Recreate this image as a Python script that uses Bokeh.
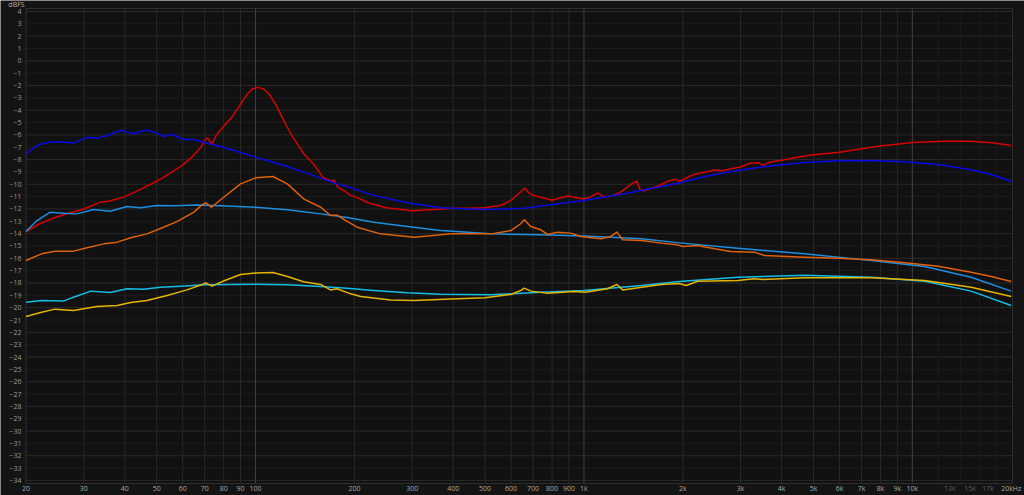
import math
from bokeh.plotting import figure
from bokeh.models import Range1d
from bokeh.core.properties import value
from bokeh.embed import file_html
from bokeh.resources import INLINE

# ---------------- data ----------------
red_f = [20, 22, 24.5, 27, 30, 33.7, 36, 40, 44, 48, 52, 56, 60, 64, 68, 70.5, 71.5, 73.5, 76, 80, 85, 90, 95, 98,
         102, 106, 110, 115, 120, 125, 130, 140, 150, 160, 165, 170, 173, 178, 185, 195, 205, 220, 250, 270, 300,
         350, 400, 450, 500, 560, 600, 640, 660, 680, 700, 750, 800, 850, 900, 950, 1000, 1050, 1100, 1150, 1200,
         1300, 1400, 1450, 1480, 1520, 1600, 1700, 1800, 1900, 1950, 2000, 2100, 2200, 2350, 2500, 2650, 2800,
         3000, 3200, 3400, 3500, 3700, 4000, 4500, 5000, 6000, 7000, 8000, 10000, 12500, 15000, 17500, 20000]
red_db = [-13.85, -13.2, -12.7, -12.35, -12.0, -11.45, -11.35, -11.0, -10.5, -10.0, -9.5, -8.95, -8.45, -7.8, -7.05,
          -6.35, -6.25, -6.8, -6.0, -5.3, -4.5, -3.5, -2.6, -2.25, -2.15, -2.3, -2.7, -3.5, -4.5, -5.4, -6.2, -7.5,
          -8.35, -9.4, -9.6, -9.75, -9.65, -10.25, -10.5, -10.9, -11.1, -11.5, -11.9, -12.0, -12.15, -12.05, -11.95,
          -11.95, -11.9, -11.7, -11.3, -10.65, -10.3, -10.7, -10.9, -11.1, -11.3, -11.1, -10.95, -11.1, -11.2, -11.0,
          -10.7, -11.0, -11.0, -10.6, -9.95, -9.75, -10.4, -10.55, -10.35, -10.1, -9.75, -9.6, -9.75, -9.65, -9.35,
          -9.15, -9.0, -8.85, -8.9, -8.75, -8.6, -8.3, -8.25, -8.45, -8.2, -8.05, -7.8, -7.6, -7.4, -7.13, -6.9,
          -6.62, -6.52, -6.52, -6.64, -6.86]

blue_f = [20, 21, 22, 23.5, 25, 28, 30.7, 32.9, 35.3, 38.8, 42.6, 46.7, 50, 52.5, 55.7, 60.4, 64.9, 71.2, 78.2, 87.9,
          100, 111, 125, 140, 158, 177, 195, 229, 290, 366, 450, 521, 658, 831, 1000, 1327, 1678, 1977, 2330, 2940,
          3720, 4690, 5930, 7500, 9480, 11980, 15100, 17400, 20000]
blue_db = [-7.55, -7.1, -6.75, -6.6, -6.55, -6.65, -6.2, -6.26, -6.05, -5.64, -5.91, -5.59, -5.85, -6.13, -5.95,
           -6.37, -6.37, -6.67, -6.94, -7.35, -7.8, -8.16, -8.56, -9.02, -9.5, -9.97, -10.29, -10.9, -11.5, -11.9,
           -12.0, -12.05, -11.94, -11.58, -11.32, -10.77, -10.24, -9.85, -9.37, -8.88, -8.5, -8.24, -8.1, -8.07,
           -8.18, -8.4, -8.83, -9.21, -9.75]

lblue_f = [20, 21.6, 23.7, 26, 28.6, 32.1, 36.1, 40.6, 44.6, 50.1, 56.4, 66.4, 78, 100, 125, 158, 190, 229, 290, 366,
           521, 740, 1000, 1500, 1950, 2940, 4690, 7500, 10900, 15100, 20000]
lblue_db = [-13.83, -12.94, -12.26, -12.34, -12.4, -12.05, -12.18, -11.8, -11.91, -11.72, -11.75, -11.69, -11.75,
            -11.86, -12.07, -12.4, -12.7, -13.07, -13.42, -13.75, -14.02, -14.1, -14.2, -14.42, -14.75, -15.18,
            -15.64, -16.18, -16.66, -17.53, -18.66]

orange_f = [20, 22.3, 24.5, 27.9, 30.7, 34.5, 37.9, 41.7, 46.7, 52.5, 58, 64.9, 68.5, 70.5, 73.4, 80, 90, 100, 113,
            125, 140, 158, 169, 177, 190, 204, 240, 304, 394, 521, 599, 642, 658, 689, 739, 775, 831, 912, 977,
            1127, 1208, 1260, 1312, 1500, 1720, 1920, 2000, 2220, 2500, 2800, 3300, 3550, 4690, 5930, 7500, 9480,
            12000, 15100, 17400, 20000]
orange_db = [-16.18, -15.64, -15.42, -15.42, -15.15, -14.83, -14.69, -14.34, -14.02, -13.48, -12.99, -12.26, -11.7,
             -11.5, -11.86, -11.05, -9.97, -9.48, -9.37, -9.97, -11.18, -11.86, -12.53, -12.5, -13.0, -13.48, -14.02,
             -14.29, -14.02, -14.02, -13.75, -13.2, -12.88, -13.42, -13.69, -14.07, -13.88, -13.96, -14.23, -14.42,
             -14.23, -13.88, -14.5, -14.56, -14.77, -14.9, -15.04, -14.96, -15.23, -15.45, -15.5, -15.77, -15.91,
             -15.99, -16.12, -16.37, -16.64, -17.13, -17.47, -17.88]

cyan_f = [20, 22.3, 26, 27.9, 31.5, 36.1, 40.6, 45.6, 51.3, 59.1, 70, 100, 125, 158, 190, 229, 290, 366, 521, 740,
          1000, 1500, 1950, 2940, 4690, 7500, 10900, 15100, 20000]
cyan_db = [-19.56, -19.42, -19.47, -19.15, -18.66, -18.77, -18.47, -18.5, -18.34, -18.26, -18.15, -18.1, -18.15,
           -18.28, -18.42, -18.61, -18.8, -18.91, -18.96, -18.75, -18.61, -18.2, -17.88, -17.53, -17.37, -17.53,
           -17.86, -18.66, -19.83]

yellow_f = [20, 22.3, 24.5, 27.9, 32.9, 37.9, 41.7, 46.7, 53.8, 61.8, 68.5, 70.5, 73.7, 80.6, 90, 100, 113, 125, 140,
            158, 169, 177, 195, 209, 258, 304, 394, 500, 599, 642, 658, 689, 775, 930, 1010, 1180, 1260, 1312, 1500,
            1720, 1950, 2050, 2220, 2940, 3300, 3500, 4690, 7500, 10900, 15100, 20000]
yellow_db = [-20.72, -20.37, -20.12, -20.23, -19.9, -19.82, -19.58, -19.42, -19.01, -18.56, -18.15, -17.99, -18.26,
             -17.8, -17.31, -17.2, -17.15, -17.47, -17.9, -18.12, -18.56, -18.47, -18.88, -19.1, -19.37, -19.42,
             -19.29, -19.2, -18.93, -18.61, -18.42, -18.66, -18.83, -18.69, -18.75, -18.47, -18.12, -18.56, -18.34,
             -18.12, -18.05, -18.2, -17.86, -17.8, -17.66, -17.72, -17.58, -17.58, -17.8, -18.34, -19.1]

x_tick_vals = [20, 30, 40, 50, 60, 70, 80, 90, 100, 200, 300, 400, 500, 600, 700, 800, 900, 1000,
               2000, 3000, 4000, 5000, 6000, 7000, 8000, 9000, 10000]
x_tick_text = ["20", "30", "40", "50", "60", "70", "80", "90", "100", "200", "300", "400", "500", "600", "700",
               "800", "900", "1k", "2k", "3k", "4k", "5k", "6k", "7k", "8k", "9k", "10k"]
x_dim_vals = [13000, 15000, 17000]
x_dim_text = ["13k", "15k", "17k"]
y_tick_vals = list(range(4, -35, -1))
y_tick_text = [str(v).replace("-", "\u2212") for v in y_tick_vals]

series = [
    (red_f, red_db, "#d80000"),
    (blue_f, blue_db, "#0a0ae6"),
    (lblue_f, lblue_db, "#1e8fe0"),
    (orange_f, orange_db, "#e0600c"),
    (cyan_f, cyan_db, "#14bde6"),
    (yellow_f, yellow_db, "#e4b400"),
]

# ---------------- layout helpers (frame pixel -> data) ----------------
PX_DEC = 328.4          # pixels per decade
X20 = 25.5              # frame x of 20 Hz
PX_DB = 12.34           # pixels per dB
Y4 = 11                 # frame y of +4 dB
W, H = 1024, 495

def fx(px):
    return 20 * 10 ** ((px - X20) / PX_DEC)

def fy(py):
    return 4 - (py - Y4) / PX_DB

F_LO, F_HI = 20, 20180
DB_TOP, DB_BOT = fy(8), fy(483)

p = figure(width=W, height=H, x_axis_type="log",
           x_range=Range1d(fx(0), fx(W)), y_range=Range1d(fy(H), fy(0)),
           x_axis_location=None, y_axis_location=None,
           output_backend="svg", toolbar_location=None, min_border=0)
p.grid.visible = False
p.outline_line_color = None
p.background_fill_color = "#141414"
p.border_fill_color = "#141414"

# plot area
p.quad(left=[F_LO], right=[F_HI], bottom=[DB_BOT], top=[DB_TOP],
       fill_color="#111111", line_color=None)

# horizontal grid
minor_h = [v for v in y_tick_vals if v % 2 != 0]
major_h = [v for v in y_tick_vals if v % 2 == 0]
p.segment(x0=[F_LO] * len(minor_h), x1=[F_HI] * len(minor_h), y0=minor_h, y1=minor_h,
          line_color="#1d1d1d", line_width=1)
p.segment(x0=[F_LO] * len(major_h), x1=[F_HI] * len(major_h), y0=major_h, y1=major_h,
          line_color="#2a2a2a", line_width=1)

# vertical grid
decades = [100, 1000, 10000]
normal_v = [v for v in x_tick_vals if v not in decades and v != 20]
faint_v = [12000, 14000, 16000, 18000]
p.segment(x0=faint_v, x1=faint_v, y0=[DB_BOT] * len(faint_v), y1=[DB_TOP] * len(faint_v),
          line_color="#1c1c1c", line_width=1)
p.segment(x0=normal_v, x1=normal_v, y0=[DB_BOT] * len(normal_v), y1=[DB_TOP] * len(normal_v),
          line_color="#282828", line_width=1)
p.segment(x0=decades, x1=decades, y0=[DB_BOT] * 3, y1=[DB_TOP] * 3,
          line_color="#404040", line_width=1)

# plot border
p.quad(left=[F_LO], right=[F_HI], bottom=[DB_BOT], top=[DB_TOP],
       fill_color=None, line_color="#2e2e2e", line_width=1)

# curves
for f, db, c in series:
    p.line(f, db, line_color=c, line_width=1.5, line_join="round")

FONT = value("Open Sans")
# y tick labels
p.text(x=[fx(21)] * len(y_tick_vals), y=y_tick_vals, text=y_tick_text,
       text_align="right", text_baseline="middle", text_font=FONT,
       text_font_size="7px", text_color="#9a9a9a")
# x tick labels
ylab = fy(488)
p.text(x=x_tick_vals, y=[ylab] * len(x_tick_vals), text=x_tick_text,
       text_align="center", text_baseline="middle", text_font=FONT,
       text_font_size="7px", text_color="#a8a8a8")
p.text(x=x_dim_vals, y=[ylab] * len(x_dim_vals), text=x_dim_text,
       text_align="center", text_baseline="middle", text_font=FONT,
       text_font_size="7px", text_color="#5e5e5e")
p.text(x=[20000], y=[ylab], text=["20kHz"],
       text_align="center", text_baseline="middle", text_font=FONT,
       text_font_size="7px", text_color="#a8a8a8")
# unit label
p.text(x=[fx(16)], y=[fy(4)], text=["dBFS"],
       text_align="center", text_baseline="middle", text_font=FONT,
       text_font_size="7px", text_color="#b0b0b0")

open("out.html", "w").write(file_html(p, INLINE))
